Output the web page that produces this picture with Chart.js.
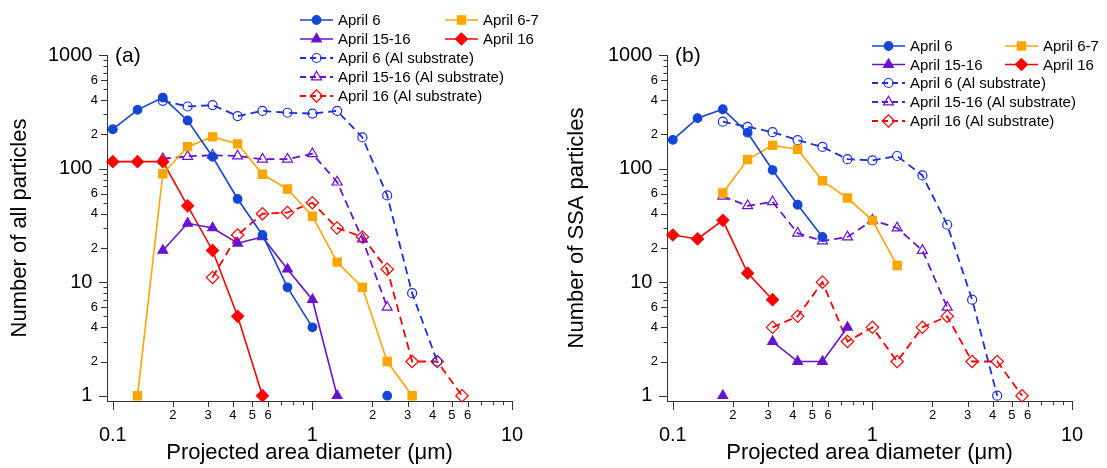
<!DOCTYPE html>
<html lang="en">
<head>
<meta charset="UTF-8">
<title>Number of particles vs projected area diameter</title>
<script src="https://cdn.jsdelivr.net/npm/chart.js"></script>
<style>
  body { margin: 0; background: #fff; }
  #wrap { position: relative; width: 1107px; height: 468px; }
  canvas { position: absolute; top: 0; }
  #chartA { left: 0; }
  #chartB { left: 560px; }
</style>
</head>
<body>
<div id="wrap">
  <canvas id="chartA" width="560" height="468"></canvas>
  <canvas id="chartB" width="547" height="468"></canvas>
</div>
<script>
// diameter bins (µm)
const diameters = [0.1, 0.133, 0.178, 0.237, 0.316, 0.422, 0.562, 0.75, 1.0, 1.33, 1.78, 2.37, 3.16, 4.22, 5.62];

// (a) all particles
const allApr6      = [222, 329, 422, 265, 127, 54, 26, 9, 4, null, null, 1, null, null, null];
const allApr67     = [null, 1, 90, 156, 190, 165, 89, 66, 38, 15, 9, 2, 1, null, null];
const allApr1516   = [null, null, 19, 33, 30, 22, 25, 13, 7, 1, null, null, null, null, null];
const allApr16     = [115, 115, 115, 47, 19, 5, 1, null, null, null, null, null, null, null, null];
const allApr6Al    = [null, null, 395, 352, 362, 290, 322, 310, 305, 322, 188, 58, 8, 2, null];
const allApr1516Al = [null, null, 122, 128, 131, 129, 121, 121, 135, 76, 24, 6, null, null, null];
const allApr16Al   = [null, null, null, null, 11, 26, 40, 41, 50, 30, 25, 13, 2, 2, 1];

// (b) SSA particles
const ssaApr6      = [179, 278, 333, 207, 97, 48, 25, null, null, null, null, null, null, null, null];
const ssaApr67     = [null, null, 61, 120, 160, 148, 78, 55, 35, 14, null, null, null, null, null];
const ssaApr1516   = [null, null, 1, null, 3, 2, 2, 4, null, null, null, null, null, null, null];
const ssaApr16     = [26, 24, 35, 12, 7, null, null, null, null, null, null, null, null, null, null];
const ssaApr6Al    = [null, null, 259, 233, 209, 178, 155, 121, 118, 129, 87, 32, 7, 1, null];
const ssaApr1516Al = [null, null, 57, 47, 51, 27, 23, 25, 35, 30, 19, 6, null, null, null];
const ssaApr16Al   = [null, null, null, null, 4, 5, 10, 3, 4, 2, 4, 5, 2, 2, 1];

const seriesNames = ['April 6', 'April 6-7', 'April 15-16', 'April 16',
  'April 6 (Al substrate)', 'April 15-16 (Al substrate)', 'April 16 (Al substrate)'];

// ticks
const xTickValues = [0.1, 0.2, 0.3, 0.4, 0.5, 0.6, 0.7, 0.8, 0.9, 1, 2, 3, 4, 5, 6, 7, 8, 9, 10];
const xTickLabels = ['0.1', '2', '3', '4', '5', '6', '', '', '', '1', '2', '3', '4', '5', '6', '', '', '', '10'];
const yTickValues = [1, 2, 3, 4, 5, 6, 7, 8, 9, 10, 20, 30, 40, 50, 60, 70, 80, 90,
  100, 200, 300, 400, 500, 600, 700, 800, 900, 1000];
const yTickLabels = ['1', '2', '', '4', '', '6', '', '', '', '10', '2', '', '4', '', '6', '', '', '',
  '100', '2', '', '4', '', '6', '', '', '', '1000'];

const FONT = "'Liberation Sans', Arial, sans-serif";
const BLUE = '#1446d6', BLUE_AL = '#1a2fe0', ORANGE = '#ffa500', PURPLE = '#6a12d2', RED = '#ff0000';

const isDecade = v => Math.abs(Math.log10(v) - Math.round(Math.log10(v))) < 1e-9;

function makeDatasets(vals) {
  const styles = [
    { c: BLUE, ps: 'circle', r: 4.3, fill: true },
    { c: ORANGE, ps: 'rect', r: 5.8, fill: true },
    { c: PURPLE, ps: 'triangle', r: 5.6, fill: true },
    { c: RED, ps: 'rectRot', r: 6, fill: true },
    { c: BLUE_AL, ps: 'circle', r: 4.5, fill: false },
    { c: PURPLE, ps: 'triangle', r: 5.8, fill: false },
    { c: RED, ps: 'rectRot', r: 6.2, fill: false }
  ];
  return vals.map((d, i) => {
    const s = styles[i];
    return {
      label: seriesNames[i],
      data: d,
      borderColor: s.c,
      borderWidth: s.fill ? 1.6 : 1.8,
      borderDash: s.fill ? [] : [8, 5],
      pointStyle: s.ps,
      pointRadius: s.r,
      pointHoverRadius: s.r,
      pointBorderWidth: 1.2,
      pointBorderColor: s.c,
      pointBackgroundColor: s.fill ? s.c : 'rgba(0,0,0,0)',
      spanGaps: false,
      tension: 0,
      clip: false
    };
  });
}

// tick marks of three lengths, drawn on the library scales
const tickMarks = {
  id: 'tickMarks',
  afterDraw(chart) {
    const ctx = chart.ctx, xs = chart.scales.x, ys = chart.scales.y, area = chart.chartArea;
    ctx.save();
    ctx.strokeStyle = '#333';
    ctx.lineWidth = 1;
    ctx.beginPath();
    xTickValues.forEach((v, i) => {
      const px = Math.round(xs.getPixelForValue(v)) + 0.5;
      const len = isDecade(v) ? 9 : (xTickLabels[i] ? 6 : 4);
      ctx.moveTo(px, area.bottom);
      ctx.lineTo(px, area.bottom + len);
    });
    yTickValues.forEach((v, i) => {
      const py = Math.round(ys.getPixelForValue(v)) + 0.5;
      const len = isDecade(v) ? 8 : (yTickLabels[i] ? 6 : 3.5);
      ctx.moveTo(area.left, py);
      ctx.lineTo(area.left - len, py);
    });
    ctx.stroke();
    ctx.restore();
  }
};

// legend with two columns on top rows
const cornerLegend = {
  id: 'cornerLegend',
  afterDraw(chart, args, opts) {
    const ctx = chart.ctx;
    ctx.save();
    ctx.font = '15px ' + FONT;
    ctx.textBaseline = 'middle';
    ctx.textAlign = 'left';
    opts.items.forEach(it => {
      const ds = chart.data.datasets[it.index];
      const x = it.col === 0 ? opts.col1 : opts.col2;
      const y = opts.rows[it.row];
      ctx.strokeStyle = ds.borderColor;
      ctx.lineWidth = ds.borderWidth;
      ctx.setLineDash(ds.borderDash.length ? [6, 4] : []);
      ctx.beginPath();
      ctx.moveTo(x, y);
      ctx.lineTo(x + opts.lineLen, y);
      ctx.stroke();
      ctx.setLineDash([]);
      ctx.fillStyle = ds.pointBackgroundColor;
      ctx.strokeStyle = ds.pointBorderColor;
      ctx.lineWidth = ds.pointBorderWidth;
      Chart.helpers.drawPoint(ctx, { pointStyle: ds.pointStyle, radius: ds.pointRadius,
        borderWidth: ds.pointBorderWidth, rotation: 0 }, x + opts.lineLen / 2, y);
      ctx.fillStyle = '#000';
      ctx.fillText(ds.label, x + opts.lineLen + 5, y + 1);
    });
    // panel letter
    ctx.font = '21px ' + FONT;
    ctx.fillText(opts.letter, chart.chartArea.left + 8, chart.chartArea.top + 1);
    ctx.restore();
  }
};

function makeChart(id, vals, yTitle, titlePad, rightPad, legendOpts) {
  return new Chart(document.getElementById(id), {
    type: 'line',
    data: { labels: diameters, datasets: makeDatasets(vals) },
    plugins: [tickMarks, cornerLegend],
    options: {
      responsive: false,
      animation: false,
      events: [],
      layout: { padding: { left: 0, top: 55, right: rightPad, bottom: 0 } },
      plugins: {
        legend: { display: false },
        tooltip: { enabled: false },
        cornerLegend: legendOpts
      },
      scales: {
        x: {
          type: 'logarithmic',
          min: 0.0935,
          max: 10,
          afterBuildTicks: s => { s.ticks = xTickValues.map(v => ({ value: v })); },
          afterFit: s => { s.height = 67; },
          ticks: {
            autoSkip: false,
            maxRotation: 0,
            padding: 0,
            color: '#000',
            callback: (v, i) => isDecade(xTickValues[i]) ? ['', xTickLabels[i]] : xTickLabels[i],
            font: c => isDecade(c.tick.value)
              ? { family: FONT, size: 20, lineHeight: 0.9 }
              : { family: FONT, size: 13, lineHeight: 1.2 }
          },
          grid: { display: false, drawTicks: true, tickLength: 7 },
          border: { display: true, color: '#333', width: 1 },
          title: {
            display: true,
            text: 'Projected area diameter (μm)',
            color: '#000',
            font: { family: FONT, size: 22, lineHeight: 1.2 },
            padding: { top: 0, bottom: 1.4 }
          }
        },
        y: {
          type: 'logarithmic',
          min: 0.898,
          max: 1000,
          afterBuildTicks: s => { s.ticks = yTickValues.map(v => ({ value: v })); },
          afterFit: s => { s.width = 107; },
          ticks: {
            autoSkip: false,
            padding: 1,
            color: '#000',
            callback: (v, i) => isDecade(yTickValues[i]) ? yTickLabels[i] + ' ' : yTickLabels[i],
            font: c => isDecade(c.tick.value)
              ? { family: FONT, size: 20 }
              : { family: FONT, size: 13 }
          },
          grid: { display: false, drawTicks: true, tickLength: 8 },
          border: { display: true, color: '#333', width: 1 },
          title: {
            display: true,
            text: yTitle,
            color: '#000',
            font: { family: FONT, size: 22, lineHeight: 1.2 },
            padding: { top: titlePad, bottom: 0 }
          }
        }
      }
    }
  });
}

const legendItems = [
  { index: 0, col: 0, row: 0 }, { index: 1, col: 1, row: 0 },
  { index: 2, col: 0, row: 1 }, { index: 3, col: 1, row: 1 },
  { index: 4, col: 0, row: 2 }, { index: 5, col: 0, row: 3 }, { index: 6, col: 0, row: 4 }
];

makeChart('chartA',
  [allApr6, allApr67, allApr1516, allApr16, allApr6Al, allApr1516Al, allApr16Al],
  'Number of all particles', 6.8, 48,
  { items: legendItems, col1: 300, col2: 445, lineLen: 33, rows: [20, 39, 58, 77, 96], letter: '(a)' });

makeChart('chartB',
  [ssaApr6, ssaApr67, ssaApr1516, ssaApr16, ssaApr6Al, ssaApr1516Al, ssaApr16Al],
  'Number of SSA particles', 3.8, 35,
  { items: legendItems, col1: 312, col2: 445, lineLen: 33, rows: [46, 64.5, 83, 102, 121], letter: '(b)' });
</script>
</body>
</html>
